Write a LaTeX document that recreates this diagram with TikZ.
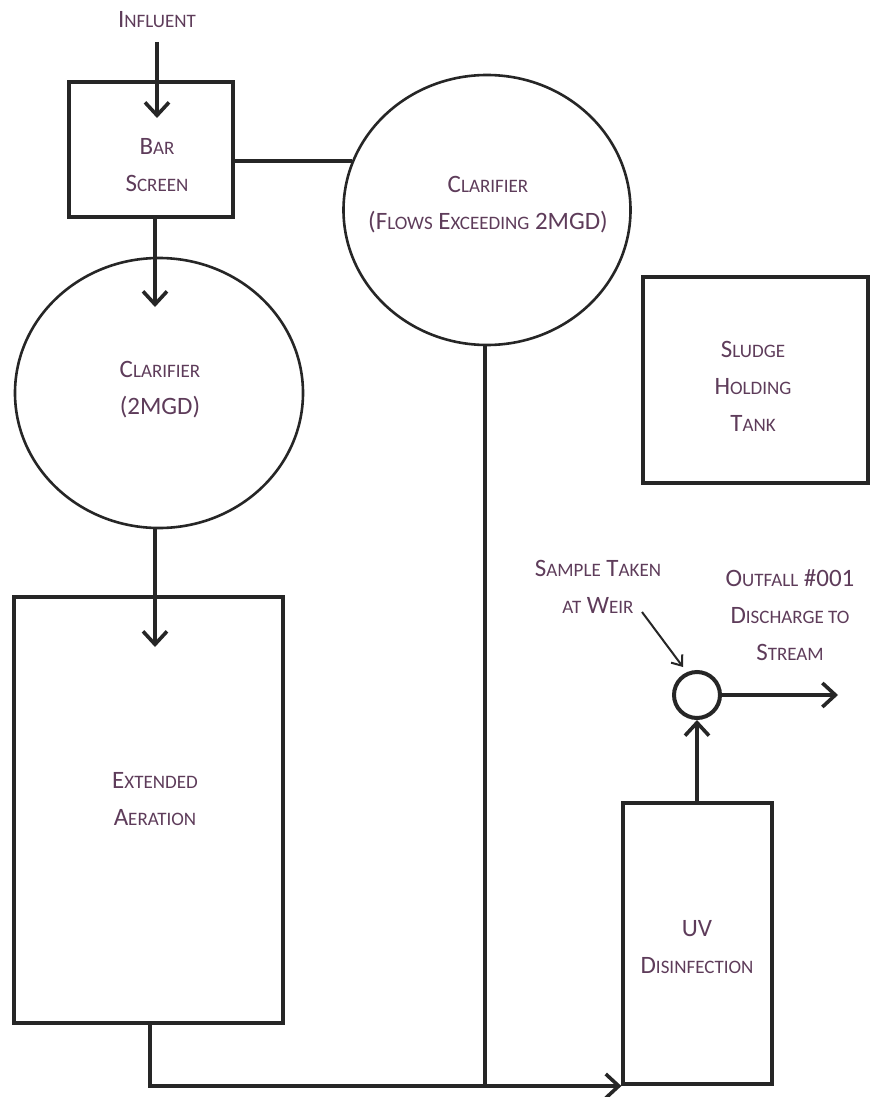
\documentclass[tikz,border=0pt]{standalone}
\usepackage{fontspec}
\setmainfont{Carlito}
\usetikzlibrary{arrows.meta,shapes.geometric}
\definecolor{ink}{HTML}{262626}
\definecolor{txt}{HTML}{5E3C5A}
\newcommand\lw[1]{{\fontsize{19}{37}\selectfont #1}}
\begin{document}
\begin{tikzpicture}[x=1pt,y=-1pt,
  box/.style={draw=ink,line width=3.2pt,rectangle,inner sep=0pt},
  tank/.style={draw=ink,line width=2.6pt,ellipse,inner sep=0pt},
  lbl/.style={text=txt,align=center,inner sep=0pt,font=\fontsize{25}{37}\selectfont},
  flow/.style={draw=ink,line width=4pt},
  arr/.style={flow,-{Straight Barb[length=13pt,width=24pt,line width=3.6pt]}},
  thin/.style={draw=ink,line width=2pt,-{Straight Barb[length=9pt,width=14pt,line width=2pt]}}]
\useasboundingbox[fill=white] (0,0) rectangle (877,1097);

% shapes
\node[box,minimum width=164pt,minimum height=135pt] (bar) at (151,149.5) {};
\node[tank,minimum width=287pt,minimum height=270pt] (bigclar) at (487,210) {};
\node[tank,minimum width=288pt,minimum height=270pt] (leftclar) at (159,393) {};
\node[box,minimum width=269pt,minimum height=426pt] (ext) at (148.5,810) {};
\node[box,minimum width=225pt,minimum height=206pt] (sludge) at (755.5,380) {};
\node[box,minimum width=149pt,minimum height=281pt] (uv) at (697.5,943.5) {};
\node[draw=ink,line width=4pt,circle,minimum size=46pt,inner sep=0pt] (weir) at (697,695) {};

% labels
\node[lbl] (tinf) at (157,20) {I\lw{NFLUENT}};
\node[lbl] (tbar) at (157,165) {B\lw{AR}\\S\lw{CREEN}};
\node[lbl] (tbig) at (488,205) {C\lw{LARIFIER}\\(F\lw{LOWS} E\lw{XCEEDING} 2MGD)};
\node[lbl] (tleft) at (160,390) {C\lw{LARIFIER}\\(2MGD)};
\node[lbl] (tsl) at (753,386) {S\lw{LUDGE}\\H\lw{OLDING}\\T\lw{ANK}};
\node[lbl] (text) at (155,799) {E\lw{XTENDED}\\A\lw{ERATION}};
\node[lbl] (tuv) at (697,947) {UV\\D\lw{ISINFECTION}};
\node[lbl] (tsam) at (598,587) {S\lw{AMPLE} T\lw{AKEN}\\\lw{AT} W\lw{EIR}};
\node[lbl] (tout) at (790,615) {O\lw{UTFALL} \#001\\D\lw{ISCHARGE TO}\\S\lw{TREAM}};

% helper coordinates
\coordinate (in0) at (157,42);
\coordinate (in1) at (157,118);
\coordinate (a1) at (155,307);
\coordinate (a2) at (155,647);
\coordinate (c1) at (150,1086);
\coordinate (c2) at (485,1086);
\coordinate (out) at (838,695);
\coordinate (s0) at (642,612);
\coordinate (s1) at (683,667);

% connectors
\draw[arr] (in0) -- (in1);
\draw[flow] (bar.east |- bigclar.160) -- (bigclar.160);
\draw[arr] (bar.south -| a1) -- (a1);
\draw[arr] (leftclar.south -| a2) -- (a2);
\draw[arr] (ext.south -| c1) -- (c1) -- (uv.south west |- c1);
\draw[flow] (bigclar.south -| c2) -- (c2);
\draw[arr] (uv.north -| weir) -- (weir.south);
\draw[arr] (weir.east) -- (out);
\draw[thin] (s0) -- (s1);
\end{tikzpicture}
\end{document}
